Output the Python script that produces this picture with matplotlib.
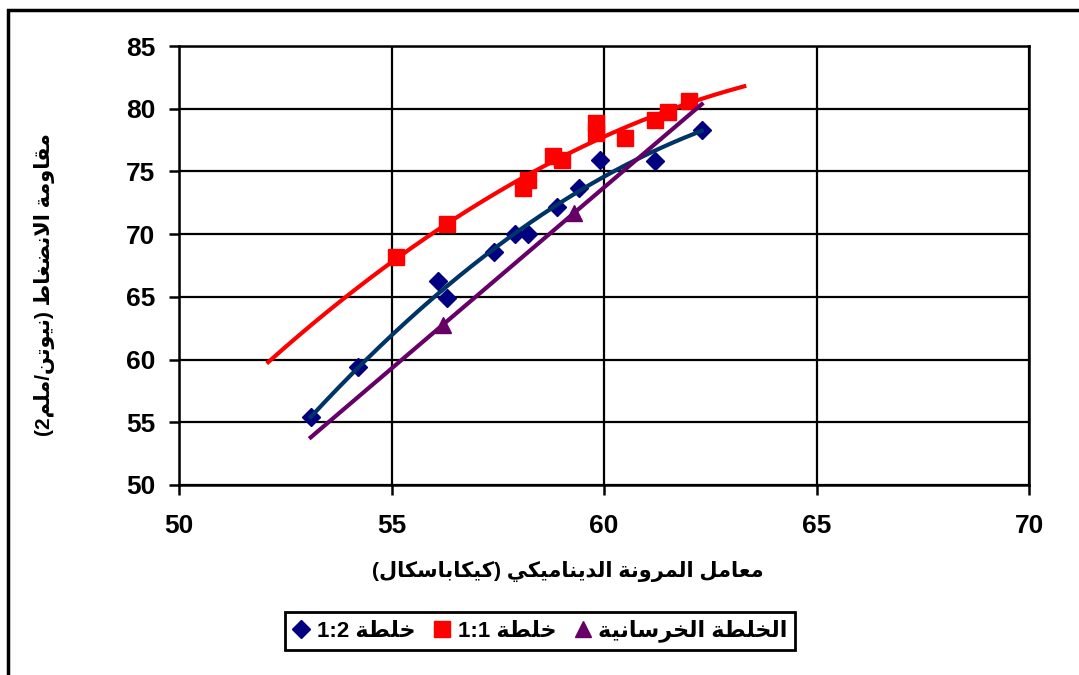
import numpy as np
import matplotlib
matplotlib.use("Agg")
import matplotlib.pyplot as plt
from matplotlib.lines import Line2D
from matplotlib.patches import Rectangle

# --- data ---
mix12_x = [53.1, 54.2, 56.1, 56.3, 57.4, 57.9, 58.2, 58.9, 59.4, 59.9, 61.2, 62.3]
mix12_y = [55.4, 59.4, 66.3, 64.9, 68.6, 70.0, 70.0, 72.2, 73.7, 75.9, 75.8, 78.3]

mix11_x = [55.1, 56.3, 58.1, 58.2, 58.8, 59.0, 59.8, 59.8, 60.5, 61.2, 61.5, 62.0]
mix11_y = [68.2, 70.8, 73.7, 74.3, 76.2, 75.9, 78.1, 78.9, 77.7, 79.1, 79.7, 80.6]

concrete_x = [56.2, 59.3]
concrete_y = [62.75, 71.7]

# trendline extents (x)
mix12_trend = (53.1, 62.3)
mix11_trend = (52.1, 63.3)
concrete_trend = (53.1, 62.3)

x_ticks = [50, 55, 60, 65, 70]
y_ticks = [50, 55, 60, 65, 70, 75, 80, 85]

x_label = "معامل المرونة الديناميكي (كيكاباسكال)"
y_label = "مقاومة الانضغاط (نيوتن/ملم2)"
leg_labels = ["خلطة 1:2", "خلطة 1:1", "الخلطة الخرسانية"]


# --- minimal arabic shaping (matplotlib has no complex text layout) ---
FORMS = {  # isolated, final, initial, medial
    'ا': (0xFE8D, 0xFE8E, None, None),
    'ب': (0xFE8F, 0xFE90, 0xFE91, 0xFE92),
    'ة': (0xFE93, 0xFE94, None, None),
    'ت': (0xFE95, 0xFE96, 0xFE97, 0xFE98),
    'خ': (0xFEA5, 0xFEA6, 0xFEA7, 0xFEA8),
    'د': (0xFEA9, 0xFEAA, None, None),
    'ر': (0xFEAD, 0xFEAE, None, None),
    'س': (0xFEB1, 0xFEB2, 0xFEB3, 0xFEB4),
    'ض': (0xFEBD, 0xFEBE, 0xFEBF, 0xFEC0),
    'ط': (0xFEC1, 0xFEC2, 0xFEC3, 0xFEC4),
    'ع': (0xFEC9, 0xFECA, 0xFECB, 0xFECC),
    'غ': (0xFECD, 0xFECE, 0xFECF, 0xFED0),
    'ق': (0xFED5, 0xFED6, 0xFED7, 0xFED8),
    'ك': (0xFED9, 0xFEDA, 0xFEDB, 0xFEDC),
    'ل': (0xFEDD, 0xFEDE, 0xFEDF, 0xFEE0),
    'م': (0xFEE1, 0xFEE2, 0xFEE3, 0xFEE4),
    'ن': (0xFEE5, 0xFEE6, 0xFEE7, 0xFEE8),
    'و': (0xFEED, 0xFEEE, None, None),
    'ي': (0xFEF1, 0xFEF2, 0xFEF3, 0xFEF4),
}


def dual(c):
    return c in FORMS and FORMS[c][2] is not None


def shape(text):
    out = []
    i = 0
    while i < len(text):
        c = text[i]
        if c not in FORMS:
            out.append(c)
            i += 1
            continue
        prev_join = i > 0 and dual(text[i - 1])
        if c == 'ل' and i + 1 < len(text) and text[i + 1] == 'ا':
            out.append(chr(0xFEFC if prev_join else 0xFEFB))
            i += 2
            continue
        next_join = dual(c) and i + 1 < len(text) and text[i + 1] in FORMS
        iso, fin, ini, med = FORMS[c]
        if prev_join and next_join:
            out.append(chr(med))
        elif prev_join:
            out.append(chr(fin))
        elif next_join:
            out.append(chr(ini))
        else:
            out.append(chr(iso))
        i += 1
    return "".join(out)


def visual(text):
    s = shape(text)[::-1]
    s = s.translate(str.maketrans("()", ")("))
    # put digit runs back in left-to-right order
    res, run = [], []
    for ch in s:
        if ch.isdigit() or ch == ':':
            run.append(ch)
        else:
            res.extend(run[::-1])
            run = []
            res.append(ch)
    res.extend(run[::-1])
    return "".join(res)


FONT = ['Liberation Sans', 'DejaVu Sans']
plt.rcParams['font.family'] = FONT
plt.rcParams['font.weight'] = 'bold'

fig = plt.figure(figsize=(10.79, 6.75), dpi=100)
ax = fig.add_axes([179 / 1079, 1 - 485 / 675, 850 / 1079, 439 / 675])

ax.set_xlim(50, 70)
ax.set_ylim(50, 85)
ax.set_xticks(x_ticks)
ax.set_yticks(y_ticks)
ax.grid(True, color='black', linewidth=1.6)
ax.set_axisbelow(True)
for sp in ax.spines.values():
    sp.set_linewidth(1.8)
ax.tick_params(direction='out', length=7, width=1.8, labelsize=19)
ax.tick_params(axis='x', pad=14)
ax.tick_params(axis='y', pad=10)
for lab in ax.get_xticklabels() + ax.get_yticklabels():
    lab.set_fontweight('bold')

# markers
ax.plot(mix12_x, mix12_y, 'D', color='#000080', ms=9, zorder=3)
ax.plot(mix11_x, mix11_y, 's', color='#ff0000', ms=11, zorder=3)
ax.plot(concrete_x, concrete_y, '^', color='#660066', ms=11, zorder=3)

# trendlines
c12 = np.polyfit(mix12_x, mix12_y, 2)
xx = np.linspace(*mix12_trend, 200)
ax.plot(xx, np.polyval(c12, xx), color='#003366', lw=3, zorder=4)

c11 = np.polyfit(mix11_x, mix11_y, 2)
xx = np.linspace(*mix11_trend, 200)
ax.plot(xx, np.polyval(c11, xx), color='#ff0000', lw=3, zorder=4)

cc = np.polyfit(concrete_x, concrete_y, 1)
xx = np.linspace(*concrete_trend, 50)
ax.plot(xx, np.polyval(cc, xx), color='#660066', lw=3, zorder=4)

# axis titles
fig.text(568 / 1079, 1 - 571 / 675, visual(x_label), ha='center', va='center',
         fontsize=15, fontweight='bold', family=FONT)
fig.text(45 / 1079, 1 - 285 / 675, visual(y_label), ha='center', va='center',
         rotation=90, fontsize=15, fontweight='bold', family=FONT)

# legend
handles = [
    Line2D([], [], ls='none', marker='D', color='#000080', ms=9),
    Line2D([], [], ls='none', marker='s', color='#ff0000', ms=11),
    Line2D([], [], ls='none', marker='^', color='#660066', ms=11),
]
leg = fig.legend(handles, [visual(t) for t in leg_labels], loc='center',
                 bbox_to_anchor=(540 / 1079, 1 - 631 / 675), ncol=3,
                 frameon=True, fancybox=False, edgecolor='black', framealpha=1,
                 handlelength=0.8, handletextpad=0.3, columnspacing=0.8,
                 borderpad=0.35, prop={'size': 16, 'weight': 'bold', 'family': FONT})
leg.get_frame().set_linewidth(2)

# outer chart frame (open on the right and bottom)
fig.add_artist(Rectangle((8 / 1079, -0.2), 1.5, 1.2 - 10 / 675,
                         transform=fig.transFigure, fill=False,
                         edgecolor='black', linewidth=2.5))

fig.savefig("out.png", dpi=100)
